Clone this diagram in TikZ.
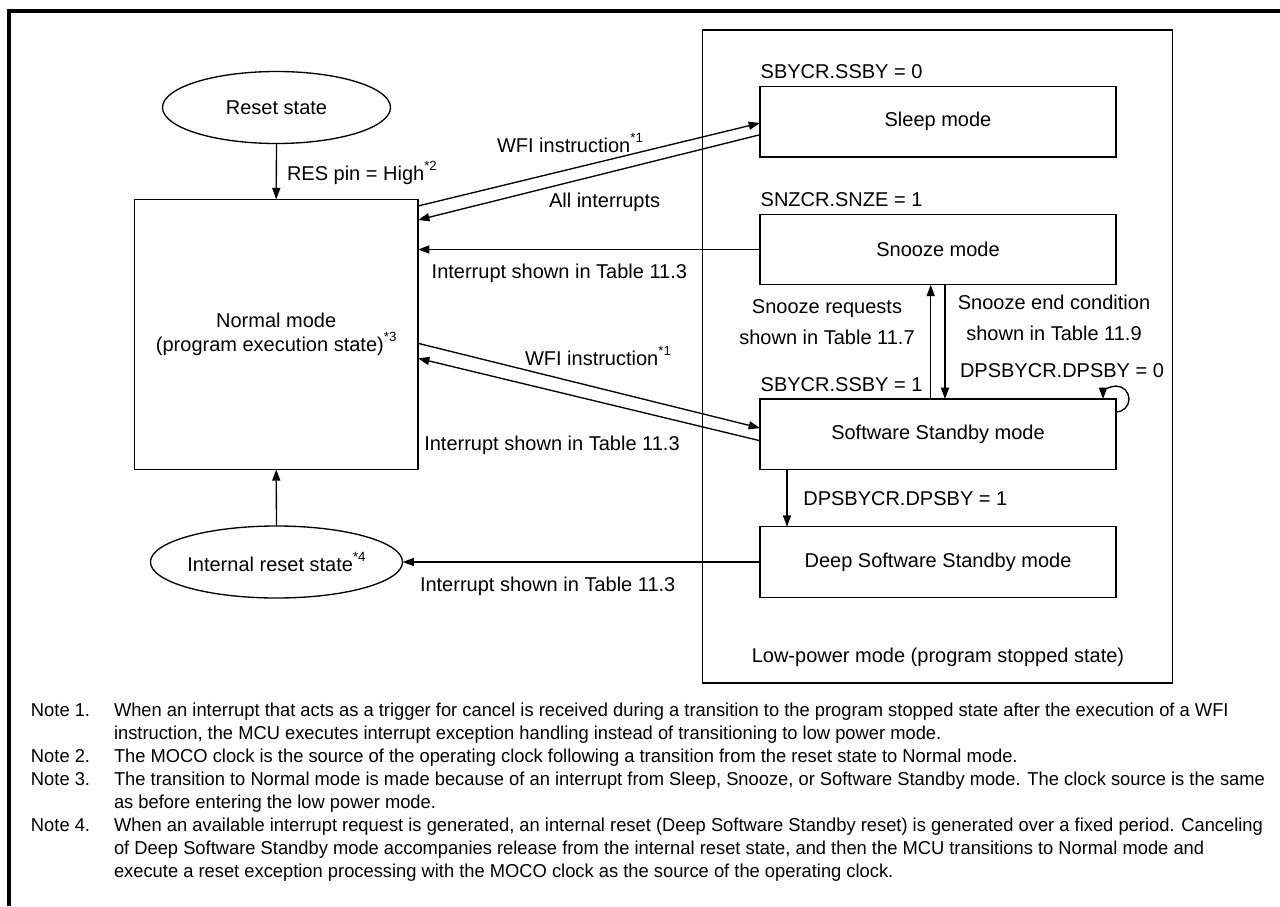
\documentclass[tikz,border=0pt]{standalone}
\usepackage{fontspec}
\setmainfont{Liberation Sans}
\newfontfamily\notefont[FakeStretch=0.982]{Liberation Sans}
\usetikzlibrary{arrows.meta,shapes.geometric,calc}
\newcommand\sups[1]{\raisebox{0.5em}{\fontsize{10}{10}\selectfont #1}}
\begin{document}
\begin{tikzpicture}[x=0.75pt,y=-0.75pt,
  every node/.style={inner sep=0pt, outer sep=0pt, font=\fontsize{15}{18}\selectfont},
  arr/.style={line width=1pt,-{Triangle[length=8.5pt,width=6pt]}},
  modebox/.style={draw,line width=1pt,minimum width=267pt,minimum height=52.9pt},
  statebox/.style={draw,ellipse,line width=1pt,minimum width=171pt,minimum height=54pt},
  lbl/.style={anchor=base west},
  notelbl/.style={anchor=base west,font=\notefont\fontsize{14}{16}\selectfont}]
\fill[white] (0,0) rectangle (1280,906);
\useasboundingbox (0,0) rectangle (1280,906);
\draw[line width=2.6pt] (1280,11) -- (9,11) -- (9,906);

% nodes
\node[statebox] (reset) at (276.5,107.5) {Reset state};
\node[draw,line width=1pt,minimum width=212.8pt,minimum height=202.5pt,align=center,
      font=\fontsize{15}{17.5}\selectfont] (normal) at (276.2,334.3)
      {Normal mode\\(program execution state)\sups{*3}};
\node[statebox] (intreset) at (276.5,562) {Internal reset state\sups{*4}};
\node[draw,line width=1pt,minimum width=352.5pt,minimum height=489.75pt] (lowpower) at (937.7,356.5) {};
\node[modebox] (sleep) at (938,121.7) {Sleep mode};
\node[modebox] (snooze) at (938,249.5) {Snooze mode};
\node[modebox] (ssb) at (938,434.3) {Software Standby mode};
\node[modebox] (dssb) at (938,562) {Deep Software Standby mode};

% connectors
\draw[arr] (reset.south) -- (normal.north);
\draw[arr] ($(normal.north east)+(0,6.7)$) -- ($(sleep.north west)+(0,36.6)$);
\draw[arr] ($(sleep.north west)+(0,48.3)$) -- ($(normal.north east)+(0,20.7)$);
\draw[arr] (snooze.west) -- (snooze.west -| normal.east);
\draw[arr] ($(normal.north east)+(0,144)$) -- ($(ssb.north west)+(0,29)$);
\draw[arr] ($(ssb.north west)+(0,41.7)$) -- ($(normal.north east)+(0,159)$);
\draw[arr] ($(ssb.north)+(-7.3,0)$) -- ($(snooze.south)+(-7.3,0)$);
\draw[arr] ($(snooze.south)+(7,0)$) -- ($(ssb.north)+(7,0)$);
\draw[arr] ($(ssb.south west)+(27,0)$) -- ($(dssb.north west)+(27,0)$);
\draw[arr] (dssb.west) -- (intreset.east);
\draw[arr] (intreset.north) -- (normal.south);
\draw[arr] ($(ssb.north east)+(0,13)$) arc[start angle=90,end angle=-180,radius=13];

% labels
\node[lbl] (lres) at (287,180) {RES pin = High\sups{*2}};
\node[lbl] (lssby0) at (760.7,78.7) {SBYCR.SSBY = 0};
\node[lbl] (lsnze) at (760.7,206) {SNZCR.SNZE = 1};
\node[lbl] (lwfi1) at (497,152) {WFI instruction\sups{*1}};
\node[lbl] (lall) at (549,207.7) {All interrupts};
\node[lbl] (lint1) at (431.7,278.7) {Interrupt shown in Table 11.3};
\node[align=center,font=\fontsize{15}{23.3}\selectfont] (lsnzreq) at (827,322) {Snooze requests\\shown in Table 11.7};
\node[align=center,font=\fontsize{15}{23.3}\selectfont] (lsnzend) at (1054,318) {Snooze end condition\\shown in Table 11.9};
\node[lbl] (ldps0) at (960,377) {DPSBYCR.DPSBY = 0};
\node[lbl] (lssby1) at (760.7,391) {SBYCR.SSBY = 1};
\node[lbl] (lwfi2) at (525,365.3) {WFI instruction\sups{*1}};
\node[lbl] (lint2) at (424.3,450.3) {Interrupt shown in Table 11.3};
\node[lbl] (ldps1) at (803.3,505.3) {DPSBYCR.DPSBY = 1};
\node[lbl] (lint3) at (420,591) {Interrupt shown in Table 11.3};
\node[anchor=base] (llow) at (938,662) {Low-power mode (program stopped state)};

% notes
\node[notelbl] (n1) at (31,716.2) {Note 1.};
\node[notelbl] (n1a) at (114,716.2) {When an interrupt that acts as a trigger for cancel is received during a transition to the program stopped state after the execution of a WFI};
\node[notelbl] (n1b) at (114,739.2) {instruction, the MCU executes interrupt exception handling instead of transitioning to low power mode.};
\node[notelbl] (n2) at (31,762.2) {Note 2.};
\node[notelbl] (n2a) at (114,762.2) {The MOCO clock is the source of the operating clock following a transition from the reset state to Normal mode.};
\node[notelbl] (n3) at (31,785.2) {Note 3.};
\node[notelbl] (n3a) at (114,785.2) {The transition to Normal mode is made because of an interrupt from Sleep, Snooze, or Software Standby mode. The clock source is the same};
\node[notelbl] (n3b) at (114,808.2) {as before entering the low power mode.};
\node[notelbl] (n4) at (31,831.2) {Note 4.};
\node[notelbl] (n4a) at (114,831.2) {When an available interrupt request is generated, an internal reset (Deep Software Standby reset) is generated over a fixed period. Canceling};
\node[notelbl] (n4b) at (114,854.2) {of Deep Software Standby mode accompanies release from the internal reset state, and then the MCU transitions to Normal mode and};
\node[notelbl] (n4c) at (114,877.2) {execute a reset exception processing with the MOCO clock as the source of the operating clock.};
\end{tikzpicture}
\end{document}
